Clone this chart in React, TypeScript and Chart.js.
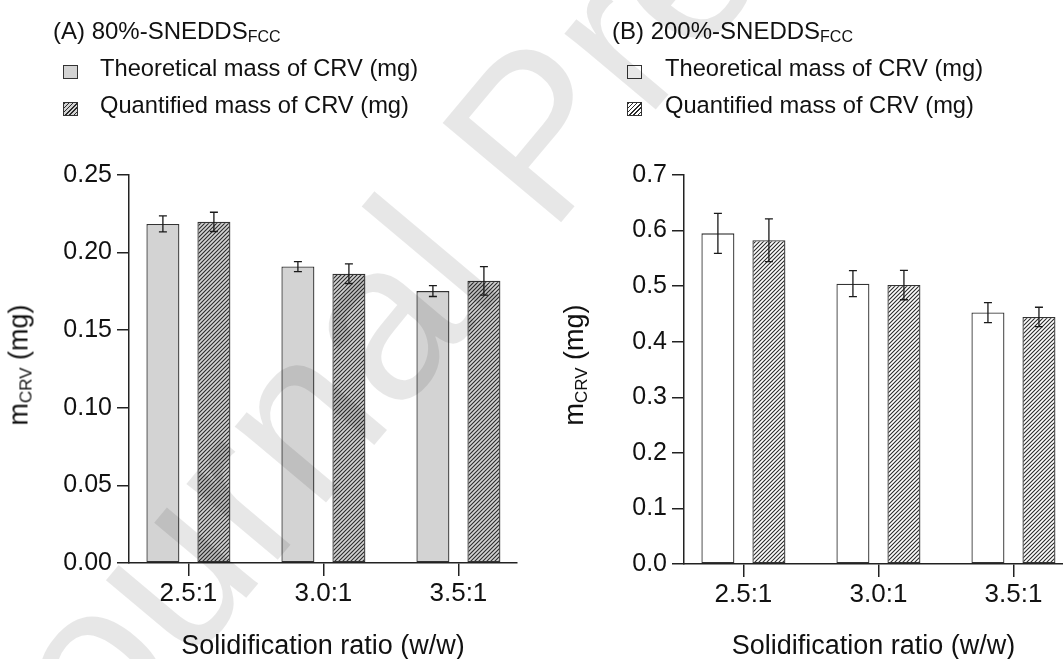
import React, { useEffect, useRef } from 'react';
import { Chart, registerables } from 'chart.js';

Chart.register(...registerables);

// ---------- data ----------
const categories = ['2.5:1', '3.0:1', '3.5:1'];
const categoryPositions = [0, 1, 2];
const seriesLabels = ['Theoretical mass of CRV (mg)', 'Quantified mass of CRV (mg)'];

const aTheoretical = [0.2185, 0.191, 0.1752];
const aTheoreticalErr = [0.0052, 0.0032, 0.0035];
const aQuantified = [0.2198, 0.1864, 0.1818];
const aQuantifiedErr = [0.0062, 0.0063, 0.0092];

const bTheoretical = [0.595, 0.5045, 0.4525];
const bTheoreticalErr = [0.036, 0.0235, 0.018];
const bQuantified = [0.5825, 0.502, 0.4445];
const bQuantifiedErr = [0.0385, 0.0265, 0.0175];

const aYTicks = [0, 0.05, 0.1, 0.15, 0.2, 0.25];
const bYTicks = [0, 0.1, 0.2, 0.3, 0.4, 0.5, 0.6, 0.7];

const FONT = "'Liberation Sans', Arial, Helvetica, sans-serif";
const AXIS = '#222';
const TEXT = '#111';

function makePattern(bg: string): CanvasPattern | string {
  const s = 4;
  const c = document.createElement('canvas');
  c.width = s;
  c.height = s;
  const ctx = c.getContext('2d');
  if (!ctx) return bg;
  ctx.fillStyle = bg;
  ctx.fillRect(0, 0, s, s);
  ctx.strokeStyle = '#2a2a2a';
  ctx.lineWidth = 1.1;
  ctx.beginPath();
  ctx.moveTo(-1, s + 1);
  ctx.lineTo(s + 1, -1);
  ctx.moveTo(-1, 1);
  ctx.lineTo(1, -1);
  ctx.moveTo(s - 1, s + 1);
  ctx.lineTo(s + 1, s - 1);
  ctx.stroke();
  return ctx.createPattern(c, 'repeat') || bg;
}

const errorBarPlugin = {
  id: 'errorBars',
  afterDatasetsDraw(chart: any) {
    const ctx = chart.ctx;
    const yScale = chart.scales.y;
    ctx.save();
    ctx.strokeStyle = '#1a1a1a';
    ctx.lineWidth = 1.3;
    chart.data.datasets.forEach((ds: any, i: number) => {
      const meta = chart.getDatasetMeta(i);
      meta.data.forEach((el: any, j: number) => {
        const v = ds.data[j].y;
        const e = ds.errors[j];
        const x = el.x;
        const t = yScale.getPixelForValue(v + e);
        const b = yScale.getPixelForValue(v - e);
        ctx.beginPath();
        ctx.moveTo(x, t);
        ctx.lineTo(x, b);
        ctx.moveTo(x - 4, t);
        ctx.lineTo(x + 4, t);
        ctx.moveTo(x - 4, b);
        ctx.lineTo(x + 4, b);
        ctx.stroke();
      });
    });
    ctx.restore();
  },
};

type PanelProps = {
  theo: number[];
  theoErr: number[];
  quant: number[];
  quantErr: number[];
  theoBg: string;
  yTicks: number[];
  decimals: number;
  width: number;
  yAxisWidth: number;
  xAxisHeight: number;
  rightPad: number;
  xMax: number;
  left: number;
};

function Panel(p: PanelProps) {
  const ref = useRef<HTMLCanvasElement | null>(null);
  useEffect(() => {
    if (!ref.current) return;
    const quantBg = makePattern(p.theoBg);
    const chart = new Chart(ref.current, {
      type: 'bar',
      data: {
        datasets: [
          {
            label: seriesLabels[0],
            data: categoryPositions.map((x, i) => ({ x, y: p.theo[i] })),
            errors: p.theoErr,
            backgroundColor: p.theoBg,
            borderColor: '#333',
            borderWidth: 1.3,
            borderSkipped: false,
            categoryPercentage: 0.7556,
            barPercentage: 0.647,
          } as any,
          {
            label: seriesLabels[1],
            data: categoryPositions.map((x, i) => ({ x, y: p.quant[i] })),
            errors: p.quantErr,
            backgroundColor: quantBg,
            borderColor: '#333',
            borderWidth: 1.3,
            borderSkipped: false,
            categoryPercentage: 0.7556,
            barPercentage: 0.647,
          } as any,
        ],
      },
      options: {
        animation: false,
        responsive: false,
        maintainAspectRatio: false,
        devicePixelRatio: 1,
        layout: { padding: { left: 0, right: p.rightPad, top: 175, bottom: 0 } },
        plugins: { legend: { display: false }, tooltip: { enabled: false } },
        scales: {
          x: {
            type: 'linear',
            offset: false,
            min: -0.44,
            max: p.xMax,
            afterBuildTicks: (ax: any) => {
              ax.ticks = categoryPositions.map((v) => ({ value: v }));
            },
            afterFit: (ax: any) => {
              ax.height = p.xAxisHeight;
            },
            grid: {
              display: true,
              offset: false,
              drawOnChartArea: false,
              drawTicks: true,
              tickLength: 13,
              color: AXIS,
              lineWidth: 1.5,
            },
            border: { display: true, color: AXIS, width: 1.5 },
            ticks: {
              autoSkip: false,
              maxRotation: 0,
              padding: 2,
              color: TEXT,
              font: { family: FONT, size: 26 },
              callback: (v: any) => categories[Math.round(Number(v))] ?? '',
            },
            title: {
              display: true,
              text: 'Solidification ratio (w/w)',
              color: TEXT,
              font: { family: FONT, size: 27, lineHeight: 0.8 },
              padding: { top: 0, bottom: 1.2 },
            },
          } as any,
          y: {
            min: 0,
            max: p.yTicks[p.yTicks.length - 1],
            afterBuildTicks: (ax: any) => {
              ax.ticks = p.yTicks.map((v) => ({ value: v }));
            },
            afterFit: (ax: any) => {
              ax.width = p.yAxisWidth;
            },
            grid: {
              display: true,
              drawOnChartArea: false,
              drawTicks: true,
              tickLength: 12,
              color: AXIS,
              lineWidth: 1.5,
            },
            border: { display: true, color: AXIS, width: 1.5 },
            ticks: {
              padding: 5,
              color: TEXT,
              font: { family: FONT, size: 25 },
              callback: (v: any) => Number(v).toFixed(p.decimals),
            },
          } as any,
        },
      },
      plugins: [errorBarPlugin],
    });
    return () => chart.destroy();
  }, []);
  return (
    <canvas
      ref={ref}
      width={p.width}
      height={659}
      style={{ position: 'absolute', left: p.left, top: 0, width: p.width, height: 659 }}
    />
  );
}

function LegendBox({ x, y, bg, hatch }: { x: number; y: number; bg: string; hatch: boolean }) {
  return (
    <div
      style={{
        position: 'absolute',
        left: x,
        top: y,
        width: 15,
        height: 14,
        boxSizing: 'border-box',
        border: '1.5px solid #333',
        background: hatch
          ? `repeating-linear-gradient(135deg, #2a2a2a 0px, #2a2a2a 1px, ${bg} 1px, ${bg} 3px)`
          : bg,
      }}
    />
  );
}

function Txt({ x, y, size, children }: { x: number; y: number; size: number; children: any }) {
  return (
    <div
      style={{
        position: 'absolute',
        left: x,
        top: y,
        fontSize: size,
        lineHeight: 1,
        whiteSpace: 'nowrap',
        color: TEXT,
        fontFamily: FONT,
      }}
    >
      {children}
    </div>
  );
}

function YTitle({ cx, cy }: { cx: number; cy: number }) {
  return (
    <div
      style={{
        position: 'absolute',
        left: cx,
        top: cy,
        fontSize: 27,
        lineHeight: 1,
        whiteSpace: 'nowrap',
        color: TEXT,
        fontFamily: FONT,
        transform: 'translate(-50%, -50%) rotate(-90deg)',
      }}
    >
      m<span style={{ fontSize: 17, verticalAlign: -4, lineHeight: 0 }}>CRV</span> (mg)
    </div>
  );
}

export default function App() {
  useEffect(() => {
    document.body.style.margin = '0';
  }, []);
  return (
    <div
      style={{
        position: 'fixed',
        left: 0,
        top: 0,
        width: 1063,
        height: 659,
        overflow: 'hidden',
        background: '#fff',
        fontFamily: FONT,
      }}
    >
      <Panel
        theo={aTheoretical}
        theoErr={aTheoreticalErr}
        quant={aQuantified}
        quantErr={aQuantifiedErr}
        theoBg="#d3d3d3"
        yTicks={aYTicks}
        decimals={2}
        width={545}
        left={0}
        yAxisWidth={129}
        xAxisHeight={96}
        rightPad={28}
        xMax={2.434}
      />
      <Panel
        theo={bTheoretical}
        theoErr={bTheoreticalErr}
        quant={bQuantified}
        quantErr={bQuantifiedErr}
        theoBg="#ffffff"
        yTicks={bYTicks}
        decimals={1}
        width={518}
        left={545}
        yAxisWidth={139}
        xAxisHeight={95}
        rightPad={0}
        xMax={2.367}
      />

      {/* Panel A header + legend */}
      <Txt x={53} y={18.5} size={24}>
        (A) 80%-SNEDDS<span style={{ fontSize: 16, verticalAlign: -3, lineHeight: 0 }}>FCC</span>
      </Txt>
      <LegendBox x={63} y={64.5} bg="#d3d3d3" hatch={false} />
      <Txt x={100} y={57} size={23.7}>{seriesLabels[0]}</Txt>
      <LegendBox x={63} y={101.5} bg="#d3d3d3" hatch={true} />
      <Txt x={100} y={94} size={23.7}>{seriesLabels[1]}</Txt>
      <YTitle cx={18.6} cy={364.5} />

      {/* Panel B header + legend */}
      <Txt x={612} y={18.5} size={24}>
        (B) 200%-SNEDDS<span style={{ fontSize: 16, verticalAlign: -3, lineHeight: 0 }}>FCC</span>
      </Txt>
      <LegendBox x={627} y={64.5} bg="#ffffff" hatch={false} />
      <Txt x={665} y={57} size={23.7}>{seriesLabels[0]}</Txt>
      <LegendBox x={627} y={101.5} bg="#ffffff" hatch={true} />
      <Txt x={665} y={94} size={23.7}>{seriesLabels[1]}</Txt>
      <YTitle cx={573.6} cy={364.5} />

      {/* watermark */}
      <div
        style={{
          position: 'absolute',
          left: 35,
          top: 850,
          fontSize: 225,
          lineHeight: 1,
          whiteSpace: 'nowrap',
          color: 'rgba(0,0,0,0.095)',
          fontFamily: FONT,
          transformOrigin: '0 0',
          transform: 'rotate(-50deg) translateY(-0.8465em)',
          pointerEvents: 'none',
        }}
      >
        Journal Pre-proof
      </div>
    </div>
  );
}
